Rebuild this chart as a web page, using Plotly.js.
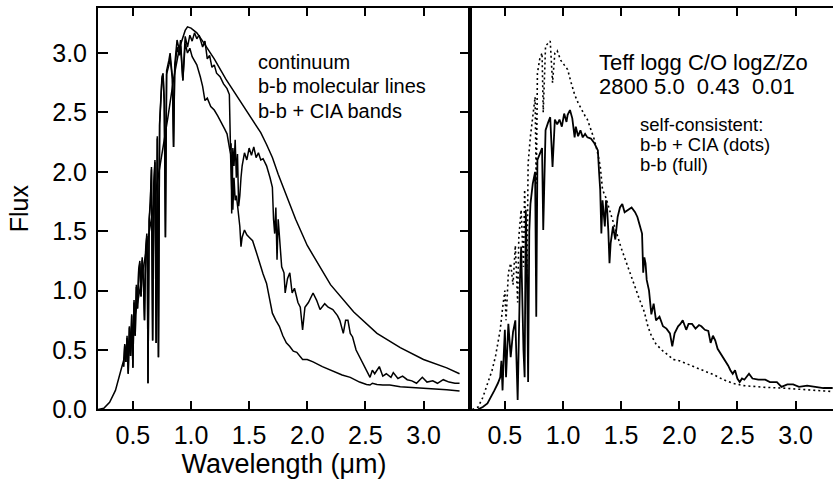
<!DOCTYPE html>
<html>
<head>
<meta charset="utf-8">
<script src="https://cdn.plot.ly/plotly-3.0.1.min.js"></script>
<style>html,body{margin:0;padding:0;background:#fff;}#chart{width:833px;height:481px;}</style>
</head>
<body>
<div id="chart"></div>
<script>
// ---------- Left panel: continuum ----------
const contX = [0.2,0.25,0.3,0.35,0.4,0.45,0.5,0.55,0.6,0.65,0.7,0.75,0.8,0.85,0.9,0.95,0.97,1.0,1.05,1.1,1.2,1.3,1.4,1.5,1.6,1.65,1.7,1.75,1.8,1.9,2.0,2.2,2.4,2.6,2.8,3.0,3.2,3.31];
const contY = [0.0,0.01,0.06,0.16,0.34,0.52,0.69,0.95,1.25,1.55,1.83,2.12,2.45,2.78,3.04,3.19,3.22,3.21,3.17,3.10,2.95,2.78,2.63,2.49,2.33,2.23,2.12,1.98,1.85,1.6,1.38,1.05,0.82,0.64,0.52,0.42,0.35,0.30];

// ---------- Left panel: b-b molecular lines ----------
const bbX = [0.42,0.43,0.44,0.45,0.46,0.47,0.48,0.49,0.50,0.51,0.52,0.53,0.54,0.55,0.56,0.57,0.58,0.59,0.60,0.61,0.62,0.625,0.63,0.64,0.65,0.66,0.67,0.68,0.69,0.70,0.71,0.72,0.73,0.75,0.76,0.77,0.78,0.79,0.81,0.82,0.84,0.85,0.86,0.88,0.90,0.91,0.93,0.94,0.95,0.97,0.99,1.01,1.03,1.05,1.07,1.10,1.12,1.14,1.16,1.18,1.20,1.22,1.25,1.28,1.31,1.33,1.34,1.345,1.35,1.36,1.37,1.38,1.39,1.40,1.41,1.42,1.43,1.44,1.46,1.48,1.50,1.52,1.54,1.56,1.58,1.60,1.62,1.65,1.68,1.70,1.71,1.72,1.73,1.74,1.75,1.76,1.78,1.80,1.81,1.83,1.85,1.87,1.89,1.92,1.94,1.96,1.98,2.01,2.05,2.08,2.11,2.15,2.18,2.22,2.26,2.28,2.31,2.33,2.35,2.37,2.39,2.42,2.45,2.48,2.51,2.54,2.56,2.58,2.62,2.65,2.68,2.72,2.74,2.78,2.82,2.86,2.90,2.94,2.99,3.03,3.08,3.12,3.17,3.22,3.27,3.31];
const bbY = [0.36,0.55,0.40,0.62,0.30,0.70,0.45,0.80,0.35,0.92,0.62,1.05,0.85,1.18,1.25,0.95,1.28,1.10,0.75,1.35,1.48,1.20,0.22,1.60,1.75,2.04,0.58,1.90,2.10,0.56,2.30,0.44,2.41,2.80,2.83,2.60,1.45,2.85,2.94,3.00,2.80,2.21,2.90,3.11,3.02,3.11,2.77,3.00,3.14,3.05,3.15,3.10,3.17,3.12,3.15,3.05,3.10,2.95,2.98,2.88,2.90,2.83,2.80,2.74,2.70,2.65,2.18,2.24,1.65,2.20,2.05,2.27,1.95,2.15,1.71,1.80,1.95,2.05,2.16,2.10,2.20,2.14,2.21,2.12,2.16,2.10,2.11,2.05,1.95,1.87,1.60,1.48,1.70,1.26,1.60,1.45,1.20,1.15,0.98,1.10,1.15,0.98,1.02,0.90,0.86,0.67,0.86,0.90,0.98,0.92,0.84,0.89,0.86,0.84,0.79,0.75,0.64,0.75,0.75,0.64,0.61,0.50,0.44,0.39,0.33,0.27,0.33,0.30,0.36,0.28,0.30,0.27,0.31,0.26,0.28,0.25,0.24,0.22,0.27,0.23,0.24,0.22,0.25,0.23,0.22,0.22];

// ---------- Left panel: b-b + CIA bands ----------
const ciaX = [0.42,0.43,0.44,0.45,0.46,0.47,0.48,0.49,0.50,0.51,0.52,0.53,0.54,0.55,0.56,0.57,0.58,0.59,0.60,0.61,0.62,0.625,0.63,0.64,0.65,0.66,0.67,0.68,0.69,0.70,0.71,0.72,0.73,0.75,0.76,0.77,0.78,0.79,0.81,0.82,0.84,0.85,0.86,0.88,0.90,0.91,0.93,0.94,0.95,0.97,0.99,1.01,1.03,1.05,1.08,1.10,1.12,1.14,1.17,1.20,1.23,1.26,1.29,1.31,1.33,1.34,1.35,1.355,1.36,1.37,1.38,1.39,1.40,1.41,1.42,1.43,1.44,1.46,1.48,1.50,1.53,1.56,1.59,1.62,1.65,1.68,1.70,1.73,1.76,1.79,1.82,1.85,1.88,1.91,1.94,1.96,2.00,2.05,2.13,2.22,2.30,2.37,2.45,2.51,2.54,2.56,2.60,2.65,2.71,2.80,2.90,2.99,3.10,3.20,3.31];
const ciaY = [0.36,0.54,0.40,0.60,0.30,0.69,0.45,0.79,0.35,0.90,0.62,1.03,0.85,1.16,1.23,0.95,1.26,1.10,0.75,1.33,1.46,1.20,0.22,1.58,1.73,2.02,0.58,1.88,2.08,0.56,2.28,0.44,2.39,2.78,2.80,2.58,1.45,2.82,2.90,2.96,2.78,2.21,2.86,3.05,2.98,3.06,2.77,2.96,3.08,3.00,3.04,2.97,2.94,2.90,2.80,2.72,2.60,2.62,2.55,2.52,2.47,2.42,2.36,2.32,2.21,2.15,1.85,2.05,1.68,1.95,1.76,1.80,1.72,1.65,1.54,1.37,1.45,1.51,1.47,1.45,1.42,1.33,1.23,1.14,1.06,0.92,0.81,0.75,0.70,0.62,0.56,0.53,0.49,0.48,0.44,0.42,0.42,0.40,0.36,0.32,0.29,0.27,0.23,0.21,0.205,0.22,0.21,0.205,0.205,0.19,0.185,0.18,0.17,0.165,0.155];

// ---------- Right panel: self-consistent b-b (full) ----------
const scX = [0.27,0.31,0.35,0.38,0.41,0.44,0.46,0.47,0.48,0.49,0.50,0.51,0.52,0.53,0.55,0.57,0.59,0.60,0.61,0.63,0.64,0.66,0.67,0.68,0.69,0.70,0.71,0.72,0.74,0.76,0.77,0.78,0.80,0.82,0.83,0.85,0.87,0.89,0.91,0.93,0.95,0.97,0.99,1.01,1.03,1.04,1.06,1.08,1.10,1.11,1.13,1.15,1.17,1.19,1.21,1.24,1.27,1.30,1.31,1.32,1.33,1.34,1.35,1.36,1.37,1.38,1.39,1.40,1.41,1.42,1.43,1.45,1.47,1.49,1.51,1.53,1.56,1.59,1.62,1.64,1.66,1.68,1.69,1.70,1.71,1.72,1.74,1.76,1.78,1.80,1.83,1.86,1.89,1.92,1.94,1.96,1.99,2.01,2.03,2.06,2.08,2.11,2.14,2.17,2.19,2.22,2.25,2.27,2.29,2.31,2.33,2.37,2.39,2.42,2.44,2.46,2.48,2.50,2.52,2.54,2.56,2.60,2.63,2.68,2.74,2.78,2.84,2.88,2.93,2.98,3.03,3.10,3.17,3.24,3.32];
const scY = [0.0,0.02,0.05,0.10,0.16,0.22,0.27,0.41,0.16,0.45,0.67,0.27,0.60,0.72,0.44,0.65,0.75,0.45,0.08,1.10,1.37,0.50,0.27,1.68,1.20,0.23,1.50,1.73,1.90,2.00,0.78,2.10,2.16,2.20,1.51,2.35,2.41,2.46,2.04,2.44,2.40,2.44,2.38,2.49,2.42,2.48,2.52,2.45,2.29,2.38,2.30,2.35,2.29,2.32,2.29,2.28,2.24,2.18,2.00,1.85,1.48,1.76,1.65,1.54,1.76,1.68,1.50,1.23,1.40,1.48,1.54,1.43,1.62,1.70,1.73,1.66,1.68,1.70,1.66,1.62,1.55,1.48,1.15,1.28,1.23,1.09,1.00,0.80,0.89,0.75,0.78,0.70,0.68,0.64,0.53,0.64,0.70,0.72,0.75,0.67,0.72,0.72,0.68,0.71,0.70,0.67,0.66,0.56,0.62,0.58,0.51,0.45,0.42,0.37,0.33,0.30,0.33,0.26,0.23,0.26,0.25,0.30,0.26,0.25,0.25,0.23,0.23,0.19,0.21,0.21,0.19,0.20,0.19,0.18,0.18];

// ---------- Right panel: self-consistent b-b + CIA (dots) ----------
const scciaX = [0.22,0.27,0.31,0.35,0.39,0.42,0.44,0.46,0.48,0.50,0.51,0.53,0.55,0.57,0.59,0.61,0.62,0.64,0.66,0.67,0.69,0.70,0.72,0.74,0.76,0.77,0.78,0.80,0.82,0.83,0.85,0.87,0.89,0.91,0.93,0.95,0.98,1.01,1.04,1.07,1.10,1.13,1.16,1.19,1.21,1.24,1.27,1.30,1.32,1.34,1.37,1.40,1.43,1.46,1.50,1.54,1.58,1.62,1.66,1.70,1.73,1.76,1.80,1.85,1.90,1.95,2.00,2.05,2.10,2.16,2.23,2.30,2.38,2.46,2.55,2.65,2.75,2.88,3.00,3.10,3.17,3.25,3.32];
const scciaY = [0.0,0.02,0.10,0.22,0.33,0.45,0.55,0.67,0.85,1.00,0.75,1.15,1.23,1.05,1.38,0.90,1.45,1.68,1.20,1.85,1.10,2.07,2.30,2.45,2.63,1.90,2.83,2.95,3.00,2.50,3.06,3.08,3.10,2.75,3.00,3.02,2.94,2.90,2.86,2.75,2.65,2.58,2.52,2.47,2.44,2.35,2.27,2.15,2.05,1.85,1.78,1.68,1.58,1.48,1.36,1.25,1.14,1.02,0.92,0.82,0.70,0.62,0.55,0.50,0.46,0.42,0.41,0.39,0.37,0.35,0.32,0.29,0.25,0.22,0.20,0.19,0.185,0.18,0.17,0.165,0.16,0.155,0.15];

// ---------- Axis ticks ----------
const xTicks = [0.5,1.0,1.5,2.0,2.5,3.0];
const xTickText = ['0.5','1.0','1.5','2.0','2.5','3.0'];
const yTicks = [0.0,0.5,1.0,1.5,2.0,2.5,3.0];
const yTickText = ['0.0','0.5','1.0','1.5','2.0','2.5','3.0'];

const W = 833, H = 481;
const px = v => v / W;
const py = v => 1 - v / H;

const FONT = 'Liberation Sans, Arial, Helvetica, sans-serif';
const line = {color:'#000', width:1.5};

const traces = [
  {x: contX, y: contY, type:'scatter', mode:'lines', line: line, xaxis:'x', yaxis:'y', name:'continuum'},
  {x: bbX, y: bbY, type:'scatter', mode:'lines', line: line, xaxis:'x', yaxis:'y', name:'b-b molecular lines'},
  {x: ciaX, y: ciaY, type:'scatter', mode:'lines', line: line, xaxis:'x', yaxis:'y', name:'b-b + CIA bands'},
  {x: scX, y: scY, type:'scatter', mode:'lines', line: {color:'#000', width:1.8}, xaxis:'x2', yaxis:'y2', name:'b-b (full)'},
  {x: scciaX, y: scciaY, type:'scatter', mode:'lines', line: {color:'#000', width:1.6, dash:'2px,3px'}, xaxis:'x2', yaxis:'y2', name:'b-b + CIA (dots)'}
];

const xCommon = {
  tickvals: xTicks, ticktext: xTickText, ticks:'inside', ticklen:8, tickwidth:2, tickcolor:'#000',
  showline:true, linewidth:2, linecolor:'#000', mirror:'ticks', showgrid:false, zeroline:false,
  tickfont:{family:FONT, size:25, color:'#000'}, ticklabelstandoff:3, automargin:false, fixedrange:true
};
const yRange = [0, 3.379];

const layout = {
  width: W, height: H,
  margin: {l:0, r:0, t:0, b:0},
  paper_bgcolor:'#fff', plot_bgcolor:'#fff',
  showlegend:false,
  xaxis: Object.assign({}, xCommon, {
    domain:[px(98), px(470)], range:[0.2, 3.4], anchor:'y',
    title:{text:'Wavelength (μm)', font:{family:FONT, size:27, color:'#000'}, standoff:2}
  }),
  xaxis2: Object.assign({}, xCommon, {
    domain:[px(470), 1], range:[0.2, 3.3226], anchor:'y2'
  }),
  yaxis: {
    domain:[py(409.4), py(8)], range:yRange, anchor:'x',
    tickvals: yTicks, ticktext: yTickText, ticks:'inside', ticklen:10, tickwidth:2, tickcolor:'#000',
    showline:true, linewidth:2, linecolor:'#000', mirror:'ticks', showgrid:false, zeroline:false,
    tickfont:{family:FONT, size:25, color:'#000'}, ticklabelstandoff:4, automargin:false, fixedrange:true,
    title:{text:'Flux', font:{family:FONT, size:25, color:'#000'}, standoff:16}
  },
  yaxis2: {
    domain:[py(409.4), py(8)], range:yRange, anchor:'x2',
    showticklabels:false, ticks:'', showline:true, linewidth:2, linecolor:'#000', mirror:false,
    showgrid:false, zeroline:false, automargin:false, fixedrange:true
  },
  annotations: [
    {text:'continuum', x:px(256), y:py(62), size:20},
    {text:'b-b molecular lines', x:px(256), y:py(86), size:20},
    {text:'b-b + CIA bands', x:px(256), y:py(111), size:20},
    {text:'Teff logg C/O logZ/Zo', x:px(597), y:py(62), size:22},
    {text:'2800 5.0&nbsp; 0.43&nbsp; 0.01', x:px(597), y:py(86), size:22},
    {text:'self-consistent:', x:px(638), y:py(124), size:18.5},
    {text:'b-b + CIA (dots)', x:px(638), y:py(144), size:18.5},
    {text:'b-b (full)', x:px(638), y:py(164), size:18.5}
  ].map(a => ({
    text:a.text, x:a.x, y:a.y, xref:'paper', yref:'paper', xanchor:'left', yanchor:'middle',
    showarrow:false, font:{family:FONT, size:a.size, color:'#000'}
  }))
};

Plotly.newPlot('chart', traces, layout, {staticPlot:true, displayModeBar:false});
</script>
</body>
</html>
